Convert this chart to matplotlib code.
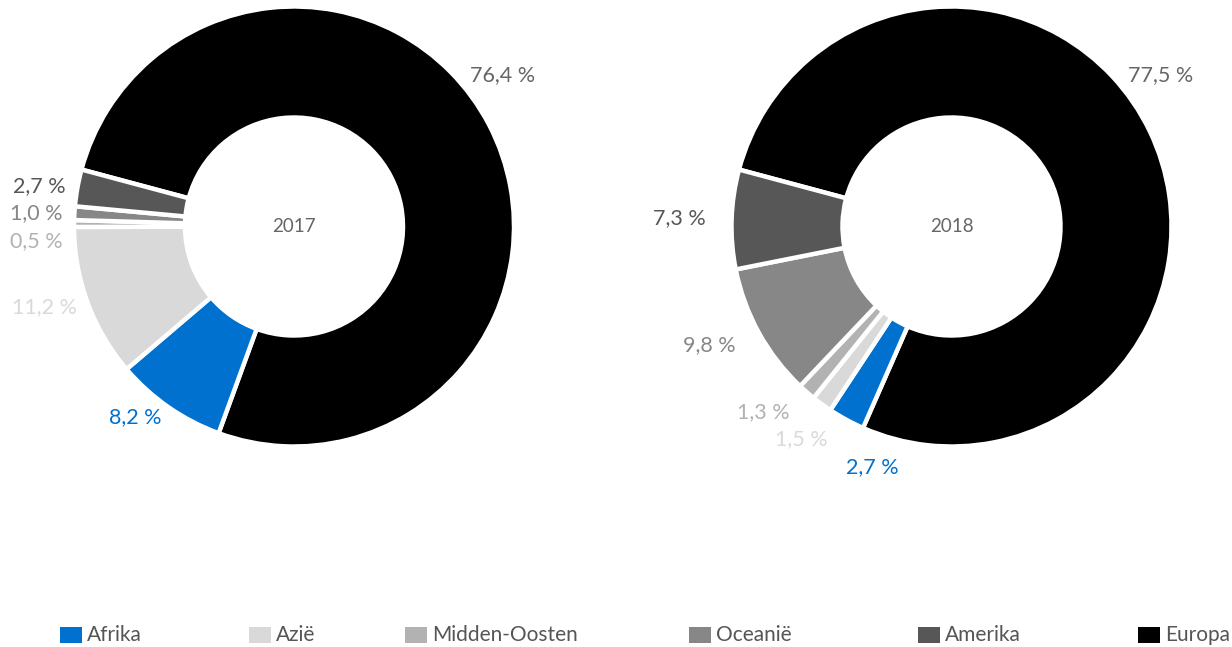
import numpy as np
import matplotlib
matplotlib.use("Agg")
import matplotlib.pyplot as plt
from matplotlib.patches import Rectangle

# ---------------- data ----------------
categories = ["Europa", "Afrika", "Azië", "Midden-Oosten", "Oceanië", "Amerika"]
values_2017 = [76.4, 8.2, 11.2, 0.5, 1.0, 2.7]
values_2018 = [77.5, 2.7, 1.5, 1.3, 9.8, 7.3]
years = ["2017", "2018"]
legend_order = ["Afrika", "Azië", "Midden-Oosten", "Oceanië", "Amerika", "Europa"]

colors = {
    "Afrika": "#0071ce",
    "Azië": "#d9d9d9",
    "Midden-Oosten": "#b2b2b2",
    "Oceanië": "#878787",
    "Amerika": "#575757",
    "Europa": "#000000",
}
label_colors = dict(colors)
label_colors["Europa"] = "#666666"

# ---------------- layout ----------------
W, H = 1232, 647
FONT = ["Lato", "DejaVu Sans"]
centers = [(294, H - 226.5), (951.5, H - 226.5)]
R_OUT = 220
R_IN = 109
START = 165
LABEL_R_RIGHT = 232
LABEL_R_LEFT = [232, 246]
MIN_GAP = 27.5
LABEL_ANGLE_OVERRIDE = {"Europa": 40.6}
legend_x = [60, 249, 405, 689, 918, 1138]
legend_y = H - 635

fig = plt.figure(figsize=(W / 100, H / 100), dpi=100)
ax = fig.add_axes([0, 0, 1, 1])


def fmt(v):
    return f"{v:.1f}".replace(".", ",") + " %"


for k, ((cx, cy), vals, year) in enumerate(zip(centers, [values_2017, values_2018], years)):
    ax.pie(
        vals,
        colors=[colors[c] for c in categories],
        startangle=START,
        counterclock=False,
        radius=R_OUT,
        center=(cx, cy),
        wedgeprops=dict(width=R_OUT - R_IN, edgecolor="white", linewidth=3.2),
        frame=True,
    )
    ax.text(cx, cy, year, ha="center", va="center", fontsize=13.5,
            color="#666666", family=FONT)

    # label placement
    total = sum(vals)
    labs = []
    ang = START
    for c, v in zip(categories, vals):
        span = 360 * v / total
        mid = ang - span / 2
        ang -= span
        mid = LABEL_ANGLE_OVERRIDE.get(c, mid)
        a = np.deg2rad(mid)
        side = 1 if np.cos(a) >= 0 else -1
        r = LABEL_R_RIGHT if side > 0 else LABEL_R_LEFT[k]
        labs.append(dict(c=c, v=v, side=side, r=r, y=cy + r * np.sin(a)))
    for side in (1, -1):
        grp = sorted([l for l in labs if l["side"] == side], key=lambda l: -l["y"])
        for i in range(1, len(grp)):
            if grp[i - 1]["y"] - grp[i]["y"] < MIN_GAP:
                grp[i]["y"] = grp[i - 1]["y"] - MIN_GAP
    for l in labs:
        dy = l["y"] - cy
        dx = np.sqrt(max(l["r"] ** 2 - dy ** 2, 0))
        x = cx + l["side"] * dx
        ax.text(x, l["y"], fmt(l["v"]), ha="left" if l["side"] > 0 else "right",
                va="center", fontsize=15.5, color=label_colors[l["c"]],
                family=FONT)

ax.set_xlim(0, W)
ax.set_ylim(0, H)
ax.set_aspect("equal")
ax.axis("off")

# legend
for c, x in zip(legend_order, legend_x):
    ax.add_patch(Rectangle((x, legend_y - 8), 22, 16, facecolor=colors[c],
                           edgecolor="none"))
    ax.text(x + 27, legend_y, c, ha="left", va="center", fontsize=15,
            color="#555555", family=FONT)

fig.savefig("out.png", dpi=100)
